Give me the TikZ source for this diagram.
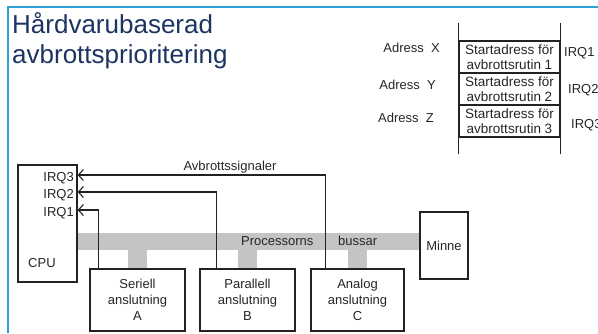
\documentclass[tikz,border=0pt]{standalone}
\usepackage{fontspec}
\setmainfont{Liberation Sans}
\usetikzlibrary{positioning,arrows.meta,backgrounds}
\definecolor{ramblue}{RGB}{47,160,214}
\definecolor{rubrik}{RGB}{28,52,98}
\definecolor{buss}{RGB}{196,196,196}
\definecolor{linje}{RGB}{34,34,34}

\begin{document}
\begin{tikzpicture}
	[x=1pt,y=-1pt,font=\fontsize{13}{16}\selectfont,
	blk/.style={draw=linje,line width=1.3pt,fill=white,align=center,inner sep=0pt,text=black!85},
	cell/.style={draw=linje,line width=1.1pt,minimum width=101,minimum height=32,inner sep=0pt,align=center,text=black!85,font=\fontsize{13.5}{15}\selectfont},
	sig/.style={draw=linje,line width=1.1pt,-{Straight Barb[length=5pt,width=11pt,line width=1.1pt]}},
	bus/.style={fill=buss},
	txt/.style={inner sep=0pt,text=black!85}]
	\useasboundingbox (0,0) rectangle (598,333);
	%%%%% FRAME AND TITLE
	\draw[ramblue,line width=1.6pt] (8,333) -- (8,7) -- (598,7);
	\node[txt,anchor=base west,text=rubrik,font=\fontsize{26}{30}\selectfont] (rubrik1) at (12,33) {Hårdvarubaserad};
	\node[txt,anchor=base west,text=rubrik,font=\fontsize{26}{30}\selectfont] (rubrik2) at (12,63) {avbrottsprioritering};
	%%%%% MEMORY
	\foreach \i/\y in {1/57,2/89,3/121}
	{
	\node[cell] (cell\i) at (509.5,\y) {Startadress för\\avbrottsrutin \i};
	};
	\draw[linje,line width=1.1pt] (cell1.north west) -- ++(0,-17) (cell1.north east) -- ++(0,-17)
		(cell3.south west) -- ++(0,16) (cell3.south east) -- ++(0,16);
	\node[txt,anchor=east] (adrX) at (440,48) {Adress~~X};
	\node[txt,anchor=east] (adrY) at (436,85) {Adress~~Y};
	\node[txt,anchor=east] (adrZ) at (434,118) {Adress~~Z};
	\node[txt,anchor=west] (irqm1) at (564,53) {IRQ1};
	\node[txt,anchor=west] (irqm2) at (568,90) {IRQ2};
	\node[txt,anchor=west] (irqm3) at (571,125) {IRQ3};
	%%%%% CPU AND UNITS
	\node[blk,minimum width=59,minimum height=117] (cpu) at (47.5,223.5) {};
	\node[txt,anchor=east] (irq3) at (74,178) {IRQ3};
	\node[txt,anchor=east] (irq2) at (74,195) {IRQ2};
	\node[txt,anchor=east] (irq1) at (74,213) {IRQ1};
	\node[txt,anchor=west] (cpulbl) at (28,263) {CPU};
	\node[blk,minimum width=95,minimum height=62] (ser) at (137.5,300) {Seriell\\anslutning\\A};
	\node[blk,minimum width=95,minimum height=62] (par) at (247.5,300) {Parallell\\anslutning\\B};
	\node[blk,minimum width=93,minimum height=62] (ana) at (357.5,300) {Analog\\anslutning\\C};
	\node[blk,minimum width=48,minimum height=67] (minne) at (444,245.5) {Minne};
	%%%%% BUS
	\coordinate (bustop) at (0,233);
	\coordinate (busbot) at (0,250);
	\begin{scope}[on background layer]
	\fill[bus] (cpu.east |- bustop) rectangle (minne.west |- busbot);
	\foreach \n in {ser,par,ana}
	{
	\fill[bus] ([xshift=-9.5]\n.north) rectangle ([xshift=9.5]\n.north |- busbot);
	};
	\end{scope}
	\node[txt,anchor=west] (busstext1) at (241,241) {Processorns};
	\node[txt,anchor=west] (busstext2) at (338,241) {bussar};
	%%%%% SIGNALS
	\draw[sig] ([xshift=9]ser.north west) |- ([yshift=3]irq1.east -| cpu.east);
	\draw[sig] ([xshift=17]par.north west) |- ([yshift=3]irq2.east -| cpu.east);
	\draw[sig] ([xshift=15]ana.north west) |- ([yshift=3]irq3.east -| cpu.east);
	\node[txt] (signaltext) at (230,167) {Avbrottssignaler};
\end{tikzpicture}
\end{document}
